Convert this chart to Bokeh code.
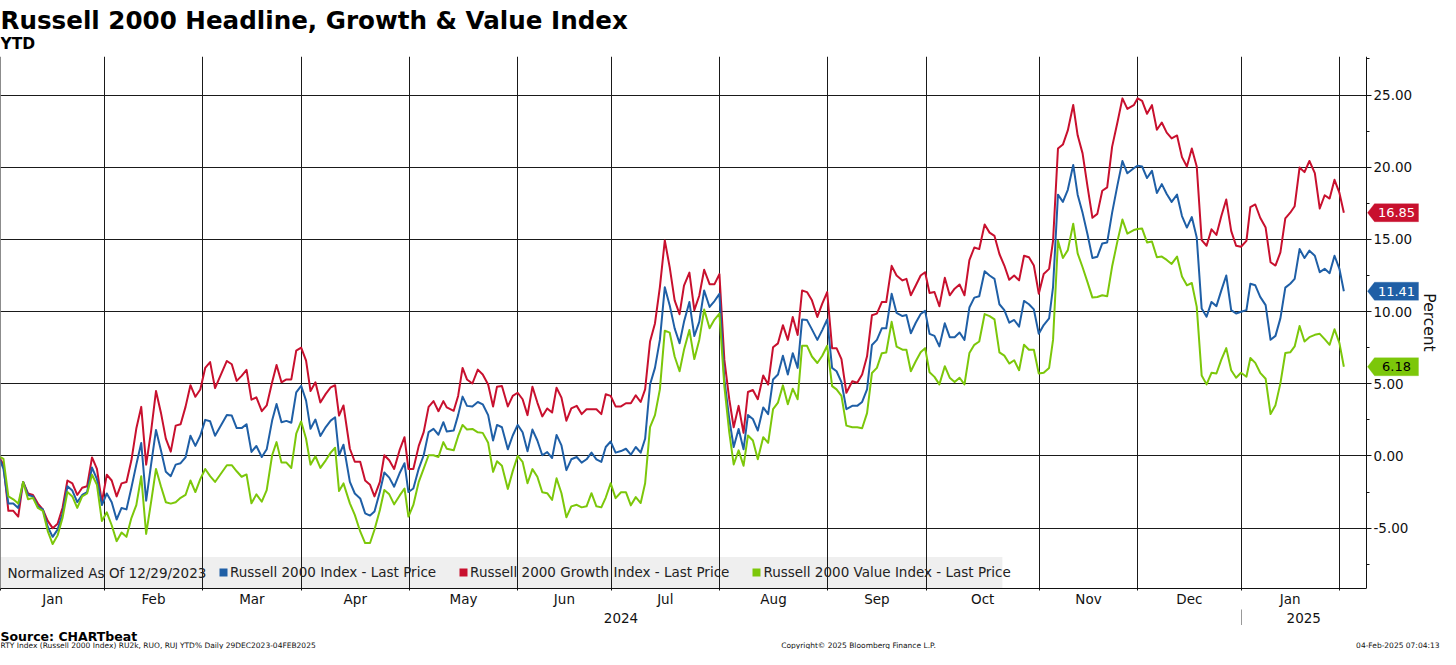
from bokeh.plotting import figure
from bokeh.layouts import column
from bokeh.models import (Range1d, LinearAxis, FixedTicker, SingleIntervalTicker,
                          NumeralTickFormatter, Label, BoxAnnotation, PolyAnnotation,
                          Legend, LegendItem)
from bokeh.core.properties import value
from bokeh.embed import file_html
from bokeh.resources import INLINE

# ---------------- data (trading-day index since 29-Dec-2023, YTD %) ----------------
day = [
    0, 1, 2, 3, 4, 5, 6, 7, 8, 9, 10, 11, 12, 13, 14, 15, 16, 17, 18, 19, 20, 21, 22,
    23, 24, 25, 26, 27, 28, 29, 30, 31, 32, 33, 34, 35, 36, 37, 38, 39, 40, 41, 42, 43, 44,
    46.4, 47.4, 48.4, 49.4, 50.4, 51.4, 52.4, 53.5, 54.5, 55.6, 56.5, 57.5, 58.5, 59.5, 60.5,
    61.5, 62.5, 63.4, 64.4, 65.4, 66.5, 67.5, 68.4, 69.2, 70.1, 71.4, 72.4, 73.5, 74.5, 75.5,
    76.4, 77.5, 78.4, 79.4, 80.4, 81.5, 82.5, 83.3, 84.3, 85.4, 86.4, 87.4, 88.4, 89.4, 90.4,
    91.1, 92.5, 93.4, 94.3, 95.2, 96.3, 97.4, 98.4, 99.5, 100.5, 101.3, 102.3, 103.5, 104.5,
    105.5, 106.5, 107.5, 108.5, 109.5, 110.5, 111.5, 112.5, 113.4, 114.4, 115.4, 116.4, 117.5,
    118.5, 119.5, 120.5, 121.5, 122.5, 123.4, 124.4, 125.4, 126.5, 127.5, 128.5, 129.5, 130.5,
    131.4, 132.4, 133.4, 134.4, 135.4, 136.4,
    137.4, 138.4, 139.3, 140.4, 141.4, 142.4, 143.4, 144.5, 145.5, 146.5, 147.5, 148.5, 149.4,
    150.4, 151.4, 152.3, 153.3, 154.3, 155.4, 156.4, 157.4, 158.4, 159.4, 160.4, 161.4, 162.4,
    163.3, 164.3, 165.3, 166.4, 167.4, 168.4, 169.4, 170.3, 171.3, 172.3, 173.5, 174.5, 175.5,
    176.5, 177.5, 178.5, 179.5, 180.4, 181.5, 182.5,
    183.7, 184.5, 185.4, 186.4, 187.4, 188.3, 189.2, 190.2, 191.2, 192.3, 193.3, 194.3, 195.3,
    196.3, 197.3, 198.3, 199.3, 200.4, 201.4, 202.4, 203.4, 204.4, 205.4, 206.4, 207.4, 208.4,
    209.4, 210.4, 211.4, 212.4, 213.5, 214.3, 215.3, 216.3, 217.3, 218.4, 219.3, 220.3, 221.3,
    222.3, 223.3, 224.3, 225.3, 226.3, 227.4, 228.4, 229.4,
    230.7, 231.5, 232.4, 233.4, 234.4, 235.4, 236.4, 237.4, 238.4, 239.5, 240.5, 241.5, 242.5,
    243.5, 244.5, 245.5, 246.5, 247.5, 248.5, 249.5, 250.5, 251.5, 252.5, 253.6, 254.4, 255.4,
    256.4, 257.5, 258.5, 259.5, 260.5, 261.5, 262.5, 263.4, 264.4, 265.4, 266.4, 267.5, 268.5,
    269.5, 270.5, 271.5, 272.5, 273.4,
]

growth = [
    0, -0.6, -3.8, -3.8, -4.2, -1.8, -2.6, -2.7, -3.3, -3.7, -4.5, -5.0, -4.7, -3.6, -1.7, -1.9,
    -2.7, -2.2, -2.1, -0.1, -0.9, -3.2, -1.3, -1.7, -2.8, -1.9, -1.8, -0.3, 1.9, 3.4, -0.6, 1.7,
    4.5, 3.0, 1.2, 0.3, 2.1, 2.2, 3.4, 4.9, 4.1, 4.6, 6.1, 6.5, 4.7,
    6.58, 6.35, 5.2, 5.55, 5.96, 3.9, 4.06, 3.1, 3.5, 5.1, 6.3, 5.1, 5.3, 5.3, 7.3, 7.5, 6.6,
    4.5, 5.1, 3.7, 4.3, 4.75, 4.9, 2.8, 3.5, 0.5, -0.4, -0.4, -1.7, -2.0, -2.8, -1.8, 0.05,
    -0.3, -0.9, 0.4, 1.3, -0.9, -0.9, 0.7, 1.65, 3.4, 3.8, 3.1, 3.8,
    3.36, 3.13, 4.16, 6.1, 5.3, 5.02, 5.98, 5.64, 4.95, 3.43, 4.8, 4.84, 3.43, 4.16, 4.38,
    3.93, 2.83, 4.8, 3.7, 2.74, 3.29, 3.01, 4.73, 4.04, 2.44, 3.29, 3.47, 2.9, 3.24, 3.24,
    3.24, 2.9, 4.27, 4.16, 3.43, 3.43, 3.65, 3.65, 4.2, 3.74, 4.61, 7.93, 9.18, 11.7, 14.93, 13.06,
    10.78, 9.82, 11.8, 12.7, 10.1, 11.1, 12.9, 11.9, 11.9, 12.6, 6.67, 3.93, 1.99, 3.47, 1.6,
    4.43, 4.57, 3.93, 5.57, 4.95, 7.53, 7.8, 9.06, 8.04, 9.63, 8.38, 11.46, 11.35, 10.78, 9.63,
    10.55, 11.35, 7.47, 7.47, 6.71, 4.38, 5.18, 5.07, 5.64, 6.9, 9.75, 9.86, 10.66, 10.66, 13.17, 12.5,
    12.16, 12.27, 11.13, 11.81, 12.5, 12.73, 11.29, 11.36, 10.37, 12.34, 11.13, 11.59, 11.88,
    11.13, 13.57, 14.44, 14.33, 16.04, 15.47, 15.24, 13.99, 13.19, 12.2, 12.5, 12.16, 13.87,
    13.76, 13.19, 11.24, 12.61, 12.96, 14.9, 21.3, 21.57, 22.55, 24.31, 22.21, 20.96, 18.67,
    16.5, 16.77, 18.37, 18.6, 21.41, 23.13, 24.77, 24.04,
    24.3, 24.77, 24.6, 23.7, 24.3, 22.6, 23.1, 22.4, 22.0, 22.2, 20.7, 20.05, 21.3, 20.05,
    14.95, 14.56, 15.7, 15.31, 16.62, 17.76, 15.59, 14.56, 14.49, 14.9, 17.23, 17.42, 16.5,
    15.82, 13.42, 13.19, 14.1, 16.46, 16.85, 17.3, 19.98, 19.66, 20.43, 19.59, 17.14, 18.06,
    17.83, 19.13, 18.22, 16.85,
]

headline = [
    0, -0.9, -3.3, -3.3, -3.6, -1.8, -2.7, -2.8, -3.5, -3.7, -4.9, -5.6, -5.1, -4.0, -2.1, -2.4,
    -3.2, -2.7, -2.5, -0.8, -1.6, -3.4, -2.6, -3.2, -4.4, -3.6, -3.7, -2.2, -0.6, 0.9, -3.1, -0.6,
    1.8, 0.4, -1.1, -1.4, -0.6, -0.5, -0.1, 1.4, 0.7, 1.4, 2.5, 2.4, 1.4,
    2.84, 2.8, 1.93, 1.93, 2.2, 0.28, 0.69, -0.07, 0.46, 2.45, 3.6, 2.34, 2.43, 2.3, 4.4, 4.86,
    3.83, 1.88, 2.52, 1.38, 2.0, 2.45, 2.68, 0.05, 0.78, -1.79, -2.6, -2.94, -3.97, -4.13,
    -3.85, -2.48, -1.15, -1.5, -2.13, -1.2, -0.5, -2.5, -2.25, -0.87, 0.05, 1.65, 1.88, 1.47, 2.34,
    1.69, 1.76, 2.83, 4.11, 3.47, 3.42, 3.74, 3.58, 2.83, 1.07, 2.15, 1.99, 0.46, 1.42, 2.15,
    1.64, 0.32, 1.83, 1.07, 0.05, 0.27, -0.14, 1.46, 0.73, -0.98, -0.23, -0.07, -0.46, -0.23,
    0.23, -0.23, -0.41, 0.62, 1.0, 0.23, 0.34, 0.5, 0.09, 0.62, 0.23, 1.19, 4.95, 6.1, 8.04,
    11.69, 10.43,
    8.84, 7.81, 9.29, 10.66, 8.31, 9.29, 11.46, 10.32, 10.73, 11.23, 5.3, 2.56, 0.62, 1.87,
    0.46, 2.83, 2.56, 1.76, 3.36, 2.9, 5.3, 5.64, 6.94, 5.64, 7.12, 6.1, 9.45, 9.41, 8.77, 8.04,
    8.72, 9.45, 6.1, 5.87, 5.11, 3.24, 3.47, 3.47, 3.74, 4.61, 7.69, 8.04, 8.84, 8.84, 11.23, 9.91,
    9.69, 9.76, 8.5, 9.23, 9.83, 10.05, 8.46, 8.32, 7.59, 9.19, 8.23, 8.23, 8.55, 8.04, 10.28,
    10.97, 11.06, 12.8, 12.5, 12.27, 10.51, 10.1, 9.23, 9.42, 8.96, 10.74, 10.51, 10.15, 8.46,
    9.07, 9.53, 11.7, 18.1, 17.6, 18.44, 20.16, 18.1, 16.84, 15.36, 13.71, 13.8, 14.72, 14.79,
    16.84, 18.78, 20.43, 19.58,
    19.93, 20.11, 20.05, 19.25, 19.75, 18.22, 18.83, 18.15, 17.6, 18.1, 16.62, 15.82, 16.55,
    15.13, 10.22, 9.65, 10.67, 10.38, 11.47, 12.5, 10.1, 9.87, 9.99, 10.1, 11.93, 11.82, 11.02,
    10.45, 8.05, 8.32, 9.53, 11.66, 11.93, 12.27, 14.33, 13.71, 14.22, 13.87, 12.73, 12.96,
    12.66, 13.87, 12.96, 11.41,
]

value_idx = [
    0, -0.2, -2.8, -3.0, -3.3, -1.8, -3.0, -2.9, -3.6, -3.8, -5.2, -6.1, -5.5, -4.3, -2.5, -2.8,
    -3.6, -2.8, -2.6, -1.3, -2.0, -4.5, -3.9, -4.8, -5.9, -5.3, -5.6, -4.3, -3.4, -1.4, -5.4,
    -3.2, -0.9, -2.1, -3.2, -3.3, -3.2, -2.9, -2.7, -1.7, -2.5, -1.6, -0.9, -1.4, -1.8,
    -0.64, -0.64, -1.06, -1.44, -1.28, -3.28, -2.66, -3.17, -2.36, 0.05, 0.96, -0.46, -0.46,
    -0.83, 1.54, 2.39, 1.19, -0.6, -0.02, -0.83, -0.3, 0.23, 0.57, -2.43, -1.9, -3.28, -4.08,
    -5.23, -6.03, -6.03, -5.11, -3.74, -2.36, -2.66, -3.35, -2.75, -2.25, -4.2, -3.39, -1.79,
    -0.87, 0.05, 0.05, -0.07, 0.96,
    0.5, 0.39, 1.37, 2.15, 1.83, 1.87, 1.64, 1.6, 0.91, -1.1, -0.37, -0.68, -2.28, -1.05, 0,
    -0.41, -1.89, -0.91, -1.44, -2.51, -2.58, -3.04, -1.55, -2.58, -4.25, -3.49, -3.38, -3.56,
    -3.49, -2.58, -3.49, -3.56, -2.88, -1.89, -2.92, -2.51, -2.51, -3.42, -2.85, -3.26, -1.89,
    1.99, 2.83, 4.61, 8.68, 8.54,
    6.89, 5.87, 7.35, 8.72, 6.71, 8.04, 10.14, 8.84, 9.45, 9.86, 4.84, 1.64, -0.59, 0.39,
    -0.68, 1.42, 1.07, -0.23, 1.3, 0.91, 3.24, 3.7, 4.89, 3.58, 4.66, 3.93, 7.63, 7.63, 6.89,
    6.44, 6.94, 7.63, 4.84, 4.61, 4.16, 2.1, 1.99, 1.99, 1.92, 2.97, 5.75, 6.1, 7.12, 7.17, 9.29, 7.58,
    7.36, 7.36, 5.87, 6.56, 7.18, 7.47, 5.8, 5.48, 4.96, 6.22, 5.42, 5.12, 5.42, 4.96, 7.13,
    7.7, 7.93, 9.83, 9.69, 9.46, 7.18, 6.95, 6.4, 6.63, 5.94, 7.7, 7.36, 7.36, 5.71, 5.76, 6.1,
    8.04, 14.9, 13.71, 14.26, 16.09, 14.03, 13.07, 12.04, 10.97, 11.01, 11.13, 11.06, 13.12,
    14.9, 16.38, 15.4,
    15.65, 15.72, 15.75, 14.79, 14.86, 13.76, 13.81, 13.58, 13.3, 13.81, 12.43, 11.82, 11.98,
    10.33, 5.58, 4.96, 5.76, 5.71, 6.67, 7.47, 5.94, 5.42, 5.76, 5.49, 6.79, 6.45, 5.76, 5.35,
    2.9, 3.52, 5.03, 7.13, 7.18, 7.59, 9.0, 7.93, 8.23, 8.39, 8.46, 8.09, 7.7, 8.78, 7.82, 6.18,
]

assert len(day) == len(growth) == len(headline) == len(value_idx), (
    len(day), len(growth), len(headline), len(value_idx))

# first trading session of each month (index on the trading-day axis)
month_first_day = [1, 22, 42, 62, 84, 106, 125, 147, 169, 189, 212, 232, 253, 273]
month_labels = ["Jan", "Feb", "Mar", "Apr", "May", "Jun", "Jul", "Aug", "Sep", "Oct",
                "Nov", "Dec", "Jan"]
year_labels = ["2024", "2025"]
series_names = ["Russell 2000 Index - Last Price",
                "Russell 2000 Growth Index - Last Price",
                "Russell 2000 Value Index - Last Price"]

title_text = "Russell 2000 Headline, Growth & Value Index"
subtitle_text = "YTD"
source_text = "Source: CHARTbeat"
footer_left = "RTY Index (Russell 2000 Index) RU2k, RUO, RUJ YTD%  Daily 29DEC2023-04FEB2025"
footer_mid = "Copyright\u00a9 2025 Bloomberg Finance L.P."
footer_right = "04-Feb-2025 07:04:13"

# ---------------- styling / layout ----------------
FONT = "DejaVu Sans"
RED = "#c8102e"
BLUE = "#1f5fa6"
GREEN = "#7cc70a"
INK = "#111111"
W = 1440
TITLE_H = 56
FH = 532
FOOT_H = 24
AXIS_PX = 1366                      # where the value axis sits, px from frame left
X0, AXIS_X = 0.4, 278.0
X_END = X0 + W * (AXIS_X - X0) / AXIS_PX
Y0, Y1 = -9.18, 27.67

# ---------------- title strip ----------------
t = figure(width=W, height=TITLE_H, x_range=Range1d(0, W), y_range=Range1d(TITLE_H, 0),
           x_axis_type=None, y_axis_type=None, output_backend="svg", toolbar_location=None,
           min_border=0)
t.outline_line_color = None
t.text(x=[0], y=[20], text=[title_text], text_font=value(FONT), text_font_size="24.6px",
       text_font_style="bold", text_color="black", text_baseline="alphabetic")
t.text(x=[0], y=[43.5], text=[subtitle_text], text_font=value(FONT), text_font_size="15.5px",
       text_font_style="bold", text_color="black", text_baseline="alphabetic")

# ---------------- main chart ----------------
p = figure(width=W, frame_height=FH, x_range=Range1d(X0, X_END), y_range=Range1d(Y0, Y1),
           y_axis_location="right", output_backend="svg", toolbar_location=None,
           min_border=0, min_border_left=0, min_border_right=0, min_border_top=0,
           min_border_bottom=0, background_fill_color="white", border_fill_color="white")
p.outline_line_color = None

gridlines = [d - 0.5 for d in month_first_day]
month_centers = [(gridlines[i] + gridlines[i + 1]) / 2 for i in range(len(month_labels))]
year_centers = [(gridlines[0] + gridlines[12]) / 2, (gridlines[12] + AXIS_X) / 2]

# x axis: month names
xa = p.xaxis[0]
xa.ticker = FixedTicker(ticks=month_centers, minor_ticks=gridlines)
xa.major_label_overrides = {c: m for c, m in zip(month_centers, month_labels)}
xa.bounds = (X0, AXIS_X)
xa.major_tick_line_color = None
xa.major_tick_out = 0
xa.major_tick_in = 0
xa.minor_tick_out = 2
xa.minor_tick_in = 0
xa.minor_tick_line_color = INK
xa.axis_line_color = INK
xa.major_label_standoff = 0
xa.major_label_text_font = FONT
xa.major_label_text_font_size = "13.5px"
xa.major_label_text_color = INK

# second row: years, with a separator tick at the year boundary
ya2 = LinearAxis(ticker=FixedTicker(ticks=year_centers, minor_ticks=[gridlines[12]]))
ya2.major_label_overrides = {c: y for c, y in zip(year_centers, year_labels)}
ya2.axis_line_color = None
ya2.major_tick_line_color = None
ya2.major_tick_out = 0
ya2.major_tick_in = 0
ya2.minor_tick_out = 18
ya2.minor_tick_in = 0
ya2.minor_tick_line_color = "#999999"
ya2.major_label_standoff = -15
ya2.major_label_text_font = FONT
ya2.major_label_text_font_size = "13.5px"
ya2.major_label_text_color = INK
p.add_layout(ya2, "below")

# value axis, placed at the end of the data area
yax = p.yaxis[0]
yax.fixed_location = AXIS_X
yax.ticker = SingleIntervalTicker(interval=5, num_minor_ticks=2)
yax.formatter = NumeralTickFormatter(format="0.00")
yax.axis_line_color = INK
yax.major_tick_out = 5
yax.major_tick_in = 0
yax.minor_tick_out = 3
yax.minor_tick_in = 0
yax.major_tick_line_color = INK
yax.minor_tick_line_color = INK
yax.major_label_standoff = 2
yax.major_label_text_font = FONT
yax.major_label_text_font_size = "13.5px"
yax.major_label_text_color = INK
yax.axis_label = "Percent"
yax.axis_label_text_font = FONT
yax.axis_label_text_font_style = "normal"
yax.axis_label_text_font_size = "15.5px"
yax.axis_label_text_color = INK
yax.axis_label_standoff = 5

# grids
p.xgrid.ticker = FixedTicker(ticks=gridlines)
p.xgrid.grid_line_color = "#1a1a1a"
p.xgrid.grid_line_width = 1
p.ygrid.grid_line_color = "#1a1a1a"
p.ygrid.grid_line_width = 1

# legend band (below the grid)
legend_right = 204.0
band_top = -6.99
p.add_layout(BoxAnnotation(left=X0, right=legend_right, bottom=Y0, top=band_top,
                           fill_color="#efefef", fill_alpha=1.0, line_color=None,
                           level="image"))
# keep the horizontal grid inside the data area (blank strip right of the value axis)
p.add_layout(BoxAnnotation(left=AXIS_X, right=X_END, bottom=Y0, top=Y1,
                           fill_color="white", fill_alpha=1.0, line_color=None,
                           level="underlay"))

# series
r_g = p.line(day, growth, line_color=RED, line_width=2, line_join="round")
r_h = p.line(day, headline, line_color=BLUE, line_width=2, line_join="round")
r_v = p.line(day, value_idx, line_color=GREEN, line_width=2, line_join="round")

# legend swatches (zero-size quads at each series' last point, shown only in the legend)
sw = []
for c, ser in ((BLUE, headline), (RED, growth), (GREEN, value_idx)):
    sw.append(p.quad(left=[day[-1]], right=[day[-1]], top=[ser[-1]], bottom=[ser[-1]],
                     fill_color=c, line_color=None))
legend = Legend(items=[LegendItem(label=n, renderers=[r]) for n, r in zip(series_names, sw)],
                orientation="horizontal", location=(218, 8), padding=7, margin=0,
                spacing=22, glyph_width=10, glyph_height=10, label_standoff=2,
                label_text_font=FONT, label_text_font_size="13.5px", label_text_color="#222222",
                background_fill_alpha=0, border_line_color=None)
p.add_layout(legend)

p.add_layout(Label(x=7, y=16, x_units="screen", y_units="screen",
                   text="Normalized As Of 12/29/2023", text_baseline="middle",
                   text_font=FONT, text_font_size="13.5px", text_color="#222222"))

# last-value callouts on the value axis
dx = (X_END - X0) / W
dy = (Y1 - Y0) / FH
for val, col, tcol in ((growth[-1], RED, "white"), (headline[-1], BLUE, "white"),
                       (value_idx[-1], GREEN, "black")):
    xs = [AXIS_X + 1 * dx, AXIS_X + 8 * dx, AXIS_X + 52 * dx, AXIS_X + 52 * dx, AXIS_X + 8 * dx]
    ys = [val, val + 9 * dy, val + 9 * dy, val - 9 * dy, val - 9 * dy]
    p.add_layout(PolyAnnotation(xs=xs, ys=ys, fill_color=col, fill_alpha=1.0,
                                line_color=col, line_width=1))
    p.add_layout(Label(x=AXIS_X + 30 * dx, y=val, text=f"{val:.2f}", text_align="center",
                       text_baseline="middle", text_color=tcol, text_font=FONT,
                       text_font_size="13px"))

# ---------------- footer strip ----------------
f = figure(width=W, height=FOOT_H, x_range=Range1d(0, W), y_range=Range1d(FOOT_H, 0),
           x_axis_type=None, y_axis_type=None, output_backend="svg", toolbar_location=None,
           min_border=0)
f.outline_line_color = None
f.text(x=[0], y=[10.5], text=[source_text], text_font=value(FONT), text_font_size="12.5px",
       text_font_style="bold", text_color="black", text_baseline="middle")
f.text(x=[0], y=[19.5], text=[footer_left], text_font=value(FONT), text_font_size="7.5px",
       text_color=INK, text_baseline="middle")
f.text(x=[858], y=[19.5], text=[footer_mid], text_font=value(FONT), text_font_size="7.5px",
       text_color=INK, text_baseline="middle", text_align="center")
f.text(x=[W - 1], y=[19.5], text=[footer_right], text_font=value(FONT), text_font_size="7.5px",
       text_color=INK, text_baseline="middle", text_align="right")

layout = column(t, p, f, spacing=0)
open("out.html", "w").write(file_html(layout, INLINE))
